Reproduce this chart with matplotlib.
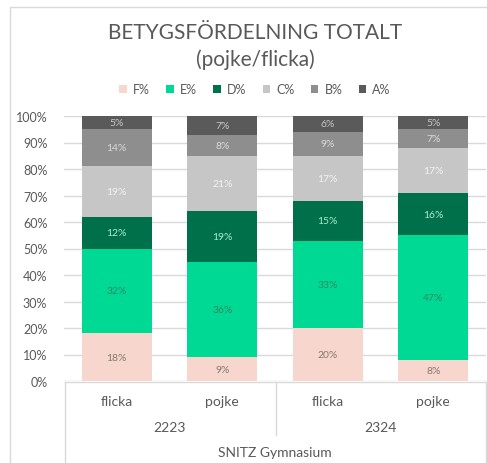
import numpy as np
import matplotlib.pyplot as plt
from matplotlib.lines import Line2D
from matplotlib.patches import Rectangle
from matplotlib.transforms import blended_transform_factory

# data
years = ["2223", "2223", "2324", "2324"]
genders = ["flicka", "pojke", "flicka", "pojke"]
grades = ["F%", "E%", "D%", "C%", "B%", "A%"]
f_vals = [18, 9, 20, 8]
e_vals = [32, 36, 33, 47]
d_vals = [12, 19, 15, 16]
c_vals = [19, 21, 17, 17]
b_vals = [14, 8, 9, 7]
a_vals = [5, 7, 6, 5]
series = [f_vals, e_vals, d_vals, c_vals, b_vals, a_vals]

colors = ["#f6d6cd", "#00d993", "#00704a", "#c6c6c6", "#8e8e8e", "#5a5a5a"]
label_colors = ["#8a7770", "#2f8a64", "#a6ecd0", "#f2f2f2", "#dadada", "#c8c8c8"]
txt = "#595959"
font = "Lato"

W, H = 487, 464
fig = plt.figure(figsize=(W / 100, H / 100), dpi=100)

def fx(px):
    return px / W

def fy(py):
    return 1 - py / H

tf = fig.transFigure

# chart frame
fig.add_artist(Rectangle((10 / W, -0.05), 1.2, (H - 8) / H + 0.05,
                         transform=tf, fill=False,
                         edgecolor="#d9d9d9", linewidth=1))

ax = fig.add_axes([64 / W, (H - 382) / H, 422 / W, 265 / H])
x = np.arange(len(genders))
bottom = np.zeros(len(genders))
for name, vals, col, lc in zip(grades, series, colors, label_colors):
    vals = np.array(vals, dtype=float)
    ax.bar(x, vals, 0.665, bottom=bottom, color=col, label=name, zorder=3)
    for xi, b, v in zip(x, bottom, vals):
        ax.text(xi, b + v / 2, f"{v:.0f}%", ha="center", va="center",
                fontsize=7.5, color=lc, family=font, zorder=4)
    bottom += vals

ax.set_xlim(-0.5, len(genders) - 0.5)
ax.set_ylim(0, 100)
ax.set_yticks(np.arange(0, 101, 10))
ax.set_yticklabels([f"{t}%" for t in range(0, 101, 10)], color=txt,
                   fontsize=9, family=font)
ax.tick_params(axis="y", length=0, pad=12)
ax.set_xticks([])
ax.grid(axis="y", color="#d9d9d9", linewidth=1, zorder=0)
for s in ax.spines.values():
    s.set_visible(False)

# multi-level category axis
grid_c = "#d9d9d9"
fig.add_artist(Line2D([fx(65), fx(487)], [fy(383), fy(383)], color=grid_c, lw=1, transform=tf))
fig.add_artist(Line2D([fx(65), fx(65)], [fy(383), fy(464)], color=grid_c, lw=1, transform=tf))
fig.add_artist(Line2D([fx(275.5), fx(275.5)], [fy(383), fy(436)], color=grid_c, lw=1, transform=tf))
fig.add_artist(Line2D([fx(485.5), fx(485.5)], [fy(383), fy(464)], color=grid_c, lw=1, transform=tf))

blend = blended_transform_factory(ax.transData, tf)
for xi, g in zip(x, genders):
    ax.text(xi, fy(402), g, transform=blend, ha="center", va="center",
            fontsize=10, color=txt, family=font)
for yr in sorted(set(years)):
    idx = [i for i, y in enumerate(years) if y == yr]
    ax.text(np.mean(idx), fy(428), yr, transform=blend, ha="center",
            va="center", fontsize=10, color=txt, family=font)
fig.text(fx(275), fy(453), "SNITZ Gymnasium", ha="center", va="center",
         fontsize=10, color=txt, family=font)

# title and legend
fig.text(fx(255), fy(33), "BETYGSFÖRDELNING TOTALT", ha="center", va="center",
         fontsize=15, color=txt, family=font)
fig.text(fx(255), fy(60), "(pojke/flicka)", ha="center", va="center",
         fontsize=15, color=txt, family=font)
leg = fig.legend(loc="center", bbox_to_anchor=(fx(255), fy(90)), ncol=6,
                 frameon=False, handlelength=0.6, handleheight=0.6,
                 handletextpad=0.5, columnspacing=1.3,
                 prop={"family": font, "size": 9})
for t in leg.get_texts():
    t.set_color(txt)

fig.savefig("out.png", dpi=100)
